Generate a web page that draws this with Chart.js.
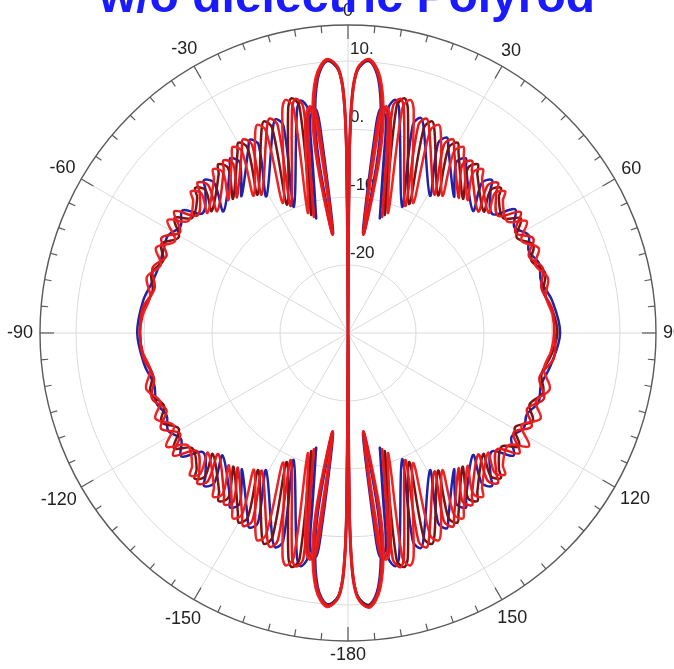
<!DOCTYPE html>
<html>
<head>
<meta charset="utf-8">
<script src="https://cdn.jsdelivr.net/npm/chart.js@4.4.1/dist/chart.umd.min.js"></script>
<style>
  html, body { margin: 0; padding: 0; background: #fff; }
  #wrap { width: 674px; height: 669px; position: relative; }
</style>
</head>
<body>
<div id="wrap"><canvas id="polar"></canvas></div>
<script>
const titleText = 'w/o dielectric Polyrod';

// radial axis (dB): centre of the plot and the outer frame circle
const rMin = -30;
const rOuter = 15.3;
const ringValues = [-20, -10, 0, 10];
const ringLabels = ['-20', '-10', '0.', '10.'];
const angleTicks = [0, 30, 60, 90, 120, 150, 180, 210, 240, 270, 300, 330];
const angleLabels = ['0', '30', '60', '90', '120', '150', '-180', '-150', '-120', '-90', '-60', '-30'];

// traces: angle (deg, clockwise from top) and level (dB)
// each row is one quadrant: 0-90, 90-180, 180-270, 270-360
const blueDeg = [
  0, 0.4, 0.9, 2.0, 4.4, 6.8, 8.8, 9.6, 8.5, 7.7, 8.3, 10.1, 15.5, 10.2, 11.5, 12.9, 23.2, 17.3, 18.7, 20.2, 30.9, 25.4, 26.9, 28.4, 37.9, 32.4, 34.0, 35.6, 45.7, 41.7, 43.3, 44.9, 50.5, 53.5, 57.5, 61.5, 65.5, 70, 75, 81, 90,
  99, 105, 110, 114.5, 118.5, 122.5, 126.5, 129.5, 135.1, 136.7, 138.3, 134.3, 144.4, 146.0, 147.6, 142.1, 151.6, 153.1, 154.6, 149.1, 159.8, 161.3, 162.7, 156.8, 167.1, 168.5, 169.8, 164.5, 169.9, 171.7, 172.3, 171.5, 170.4, 171.2, 173.2, 175.6, 178.0, 179.1, 179.6, 180,
  180.4, 180.9, 182.0, 184.4, 186.8, 188.8, 189.6, 188.5, 187.7, 188.3, 190.1, 195.5, 190.2, 191.5, 192.9, 203.2, 197.3, 198.7, 200.2, 210.9, 205.4, 206.9, 208.4, 217.9, 212.4, 214.0, 215.6, 225.7, 221.7, 223.3, 224.9, 230.5, 233.5, 237.5, 241.5, 245.5, 250, 255, 261, 270,
  279, 285, 290, 294.5, 298.5, 302.5, 306.5, 309.5, 315.1, 316.7, 318.3, 314.3, 324.4, 326.0, 327.6, 322.1, 331.6, 333.1, 334.6, 329.1, 339.8, 341.3, 342.7, 336.8, 347.1, 348.5, 349.8, 344.5, 349.9, 351.7, 352.3, 351.5, 350.4, 351.2, 353.2, 355.6, 358.0, 359.1, 359.6, 360
];
const blueDb = [
  -30, -6, 4.0, 8.6, 10.1, 7.6, 1.5, -5.0, -15.1, 0.9, 3.4, 1.8, -12.5, 3.6, 5.0, 3.7, -9.8, 2.1, 3.4, 2.2, -6.5, 0.9, 2.2, 1.0, -4.6, -0.3, 1.0, -0.2, -4.3, -0.4, 0.9, -0.3, -2.5, 0.6, -1.0, 0.2, -0.8, -0.1, -0.6, 0.4, 1.2,
  0.2, -0.6, -0.2, -1.1, -0.6, -1.5, 0.3, -2.6, -0.3, 0.9, -0.4, -4.3, -0.2, 1.0, -0.3, -4.6, 1.0, 2.2, 0.9, -6.5, 2.2, 3.4, 2.1, -9.8, 3.7, 5.0, 3.6, -12.5, 1.8, 3.4, 0.9, -15.1, -5.0, 1.5, 7.6, 10.1, 8.6, 4.0, -6, -30,
  -6, 4.0, 8.6, 10.0, 7.6, 1.5, -5.0, -15.1, 0.9, 3.4, 1.8, -12.5, 3.6, 5.0, 3.7, -9.7, 2.1, 3.3, 2.2, -6.5, 0.9, 2.1, 1.0, -4.6, -0.3, 1.0, -0.2, -4.2, -0.4, 0.9, -0.3, -2.4, 0.5, -0.9, 0.1, -0.7, 0.0, -0.5, 0.3, 1.0,
  0.5, -0.3, -0.5, -0.2, 0.1, -0.8, 0.3, -2.3, -0.3, 0.9, -0.4, -4.4, -0.2, 1.0, -0.3, -4.5, 0.8, 1.9, 0.7, -6.6, 2.0, 3.2, 1.9, -9.8, 3.6, 4.9, 3.5, -12.5, 1.8, 3.4, 0.9, -15.2, -5.0, 1.5, 7.6, 10.1, 8.6, 4.0, -6, -30
];

const red1Deg = [
  0, 0.4, 0.9, 2.0, 4.3, 6.9, 9.0, 9.9, 8.8, 8.0, 8.8, 10.6, 16.4, 11.2, 12.6, 14.0, 24.2, 18.7, 20.1, 21.6, 32.0, 27.0, 28.5, 30.0, 39.3, 34.2, 35.8, 37.4, 47.0, 43.4, 45.0, 46.6, 52.0, 55.0, 59.0, 63.0, 67.0, 71.5, 77, 83, 90,
  97, 103, 108.5, 113.0, 117.0, 121.0, 125.0, 128.0, 133.4, 135.0, 136.6, 133.0, 142.6, 144.2, 145.8, 140.7, 150.0, 151.5, 153.0, 148.0, 158.4, 159.9, 161.3, 155.8, 166.0, 167.4, 168.8, 163.6, 169.4, 171.2, 172.0, 171.2, 170.1, 171.0, 173.1, 175.7, 178.0, 179.1, 179.6, 180,
  180.4, 180.9, 182.0, 184.3, 186.9, 189.0, 189.9, 188.8, 188.0, 188.8, 190.6, 196.4, 191.2, 192.6, 194.0, 204.2, 198.7, 200.1, 201.6, 212.0, 207.0, 208.5, 210.0, 219.3, 214.2, 215.8, 217.4, 227.0, 223.4, 225.0, 226.6, 232.0, 235.0, 239.0, 243.0, 247.0, 251.5, 257, 263, 270,
  277, 283, 288.5, 293.0, 297.0, 301.0, 305.0, 308.0, 313.4, 315.0, 316.6, 313.0, 322.6, 324.2, 325.8, 320.7, 330.0, 331.5, 333.0, 328.0, 338.4, 339.9, 341.3, 335.8, 346.0, 347.4, 348.8, 343.6, 349.4, 351.2, 352.0, 351.2, 350.1, 351.0, 353.1, 355.7, 358.0, 359.1, 359.6, 360
];
const red1Db = [
  -30, -5, 4.5, 8.9, 10.3, 7.8, 1.8, -5.0, -15.3, 1.2, 3.7, 2.0, -12.2, 3.9, 5.3, 4.0, -9.5, 2.3, 3.6, 2.4, -6.0, 1.1, 2.4, 1.2, -4.3, -0.1, 1.2, 0.0, -3.8, -0.1, 1.2, 0.0, -2.0, 1.0, -1.3, 0.6, -1.1, 0.2, -0.8, 0.2, 0.4,
  0.5, -1.1, 0.4, -1.4, 0.3, -1.6, 0.8, -2.2, 0.0, 1.2, -0.1, -3.8, 0.0, 1.2, -0.1, -4.3, 1.2, 2.4, 1.1, -6.0, 2.4, 3.6, 2.3, -9.5, 4.0, 5.3, 3.9, -12.2, 2.0, 3.7, 1.2, -15.3, -5.0, 1.8, 7.8, 10.4, 8.9, 4.5, -5, -30,
  -5, 4.5, 8.9, 10.2, 7.8, 1.8, -5.0, -15.3, 1.2, 3.7, 2.0, -12.2, 3.9, 5.2, 4.0, -9.5, 2.2, 3.5, 2.3, -6.1, 1.0, 2.3, 1.1, -4.4, -0.1, 1.1, 0.0, -3.9, 0.0, 1.3, 0.1, -1.8, 1.4, -1.2, 0.9, -1.0, 0.4, -0.7, 0.3, 0.6,
  0.4, -0.8, 0.3, -1.0, 0.8, -1.2, 1.2, -1.9, 0.0, 1.3, -0.1, -3.7, 0.1, 1.3, 0.0, -4.2, 1.2, 2.4, 1.1, -6.0, 2.4, 3.6, 2.3, -9.5, 4.0, 5.3, 3.9, -12.2, 2.0, 3.7, 1.2, -15.3, -5.0, 1.8, 7.8, 10.3, 8.9, 4.5, -5, -30
];

const maroonDeg = [
  0, 0.5, 1.0, 2.1, 4.4, 7.0, 9.1, 10.0, 8.9, 8.3, 9.1, 10.9, 17.3, 12.1, 13.5, 14.9, 25.3, 20.3, 21.7, 23.2, 33.2, 28.5, 30.0, 31.5, 40.6, 36.0, 37.6, 39.2, 48.2, 44.9, 46.5, 48.1, 53.5, 56.5, 60.5, 64.5, 68.5, 73, 78, 84, 90,
  96, 102, 107, 111.5, 115.5, 119.5, 123.5, 126.5, 131.9, 133.5, 135.1, 131.8, 140.8, 142.4, 144.0, 139.4, 148.5, 150.0, 151.5, 146.8, 156.8, 158.3, 159.7, 154.7, 165.1, 166.5, 167.9, 162.7, 169.1, 170.9, 171.7, 171.1, 170.0, 170.9, 173.0, 175.6, 177.9, 179.0, 179.5, 180,
  180.5, 181.0, 182.1, 184.4, 187.0, 189.1, 190.0, 188.9, 188.3, 189.1, 190.9, 197.3, 192.1, 193.5, 194.9, 205.3, 200.3, 201.7, 203.2, 213.2, 208.5, 210.0, 211.5, 220.6, 216.0, 217.6, 219.2, 228.2, 224.9, 226.5, 228.1, 233.5, 236.5, 240.5, 244.5, 248.5, 253, 258, 264, 270,
  276, 282, 287, 291.5, 295.5, 299.5, 303.5, 306.5, 311.9, 313.5, 315.1, 311.8, 320.8, 322.4, 324.0, 319.4, 328.5, 330.0, 331.5, 326.8, 336.8, 338.3, 339.7, 334.7, 345.1, 346.5, 347.9, 342.7, 349.1, 350.9, 351.7, 351.1, 350.0, 350.9, 353.0, 355.6, 357.9, 359.0, 359.5, 360
];
const maroonDb = [
  -30, -5, 4.2, 8.7, 10.2, 7.7, 1.6, -5.2, -15.0, 1.0, 3.5, 1.9, -11.8, 4.1, 5.5, 4.2, -9.0, 2.2, 3.5, 2.3, -5.8, 1.0, 2.3, 1.1, -4.0, 0.0, 1.3, 0.1, -3.2, -0.3, 1.0, -0.2, -1.6, 0.5, -1.5, 0.2, -1.0, 0.3, -0.6, 0.3, 0.8,
  0.1, -0.9, 0.0, -1.3, 0.1, -1.8, 0.2, -1.9, -0.2, 1.0, -0.3, -3.3, 0.1, 1.2, 0.0, -4.1, 1.1, 2.2, 1.0, -5.8, 2.3, 3.4, 2.2, -9.0, 4.2, 5.4, 4.1, -11.8, 1.9, 3.5, 1.0, -15.0, -5.2, 1.6, 7.7, 10.2, 8.7, 4.2, -5, -30,
  -5, 4.2, 8.7, 10.1, 7.7, 1.6, -5.2, -15.0, 1.0, 3.5, 1.9, -11.8, 4.0, 5.4, 4.1, -9.0, 2.1, 3.4, 2.2, -5.9, 0.9, 2.2, 1.0, -4.1, -0.1, 1.2, 0.0, -3.3, -0.2, 1.1, -0.1, -1.5, 0.7, -1.4, 0.4, -0.9, 0.4, -0.6, 0.3, 0.6,
  0.4, -0.6, 0.2, -0.8, 0.4, -1.4, 0.6, -1.5, -0.2, 1.0, -0.3, -3.1, 0.1, 1.3, 0.0, -4.0, 1.1, 2.3, 1.0, -5.7, 2.3, 3.5, 2.2, -9.1, 4.2, 5.5, 4.1, -11.8, 1.9, 3.5, 1.0, -15.0, -5.2, 1.6, 7.7, 10.2, 8.7, 4.2, -5, -30
];

const red2Deg = [
  0, 0.5, 1.1, 2.2, 4.5, 7.2, 9.4, 10.3, 9.0, 8.6, 9.5, 11.3, 18.5, 13.6, 15.0, 16.4, 26.5, 22.1, 23.6, 25.1, 34.5, 30.3, 31.8, 33.3, 42.0, 37.9, 39.5, 41.1, 49.5, 46.4, 48.0, 49.6, 55.0, 58.0, 62.0, 66.0, 70.0, 74.5, 79.5, 85, 90,
  95, 100.5, 105.5, 110, 114, 118, 122, 125, 130.4, 132, 133.6, 130.5, 138.9, 140.5, 142.1, 138, 146.7, 148.2, 149.7, 145.5, 154.9, 156.4, 157.9, 153.5, 163.6, 165, 166.4, 161.5, 168.7, 170.5, 171.4, 171, 169.7, 170.6, 172.8, 175.5, 177.8, 178.9, 179.5, 180,
  180.5, 181.1, 182.2, 184.5, 187.2, 189.4, 190.3, 189.0, 188.6, 189.5, 191.3, 198.5, 193.6, 195.0, 196.4, 206.5, 202.1, 203.6, 205.1, 214.5, 210.3, 211.8, 213.3, 222.0, 217.9, 219.5, 221.1, 229.5, 226.4, 228.0, 229.6, 235.0, 238.0, 242.0, 246.0, 250.0, 254.5, 259.5, 265, 270,
  275, 280.5, 285.5, 290, 294, 298, 302, 305, 310.4, 312, 313.6, 310.5, 318.9, 320.5, 322.1, 318, 326.7, 328.2, 329.7, 325.5, 334.9, 336.4, 337.9, 333.5, 343.6, 345, 346.4, 341.5, 348.7, 350.5, 351.4, 351, 349.7, 350.6, 352.8, 355.5, 357.8, 358.9, 359.5, 360
];
const red2Db = [
  -30, -4, 4.8, 9.0, 10.4, 7.9, 1.9, -5.0, -15.2, 1.3, 3.8, 2.1, -11.4, 4.1, 5.5, 4.2, -8.6, 2.1, 3.4, 2.2, -5.5, 0.9, 2.2, 1.0, -3.7, -0.1, 1.2, 0.0, -2.8, -0.2, 1.1, -0.1, -1.4, 1.0, -1.1, 0.7, -0.7, 0.5, -0.4, 0.2, 0.3,
  0.0, -0.7, 0.8, -0.6, 1.0, -1.1, 1.4, -1.2, -0.1, 1.1, -0.2, -2.9, 0.0, 1.2, -0.1, -3.7, 1.0, 2.1, 0.9, -5.5, 2.2, 3.3, 2.1, -8.6, 4.2, 5.4, 4.1, -11.4, 2.1, 3.8, 1.3, -15.2, -5.0, 1.9, 7.9, 10.5, 9.0, 4.8, -4, -30,
  -4, 4.8, 9.0, 10.4, 7.9, 1.9, -5.0, -15.2, 1.3, 3.8, 2.1, -11.4, 4.0, 5.4, 4.1, -8.7, 2.0, 3.3, 2.1, -5.6, 0.9, 2.1, 1.0, -3.8, -0.1, 1.2, 0.0, -2.9, 0.0, 1.3, 0.1, -1.2, 1.5, -1.0, 1.0, -0.6, 0.8, -0.4, 0.4, 0.6,
  0.3, -0.4, 0.7, -0.7, 0.9, -1.2, 1.3, -1.3, -0.1, 1.1, -0.2, -2.8, 0.0, 1.2, -0.1, -3.7, 1.1, 2.2, 1.0, -5.5, 2.2, 3.4, 2.1, -8.6, 4.2, 5.5, 4.1, -11.4, 2.1, 3.8, 1.3, -15.2, -5.0, 1.9, 7.9, 10.4, 9.0, 4.8, -4, -30
];

// polar (deg, dB) -> plane coordinates in dB-above-centre units
function toPoints(degs, dbs) {
  return degs.map((d, i) => {
    const r = Math.max(dbs[i] - rMin, 0);
    const a = d * Math.PI / 180;
    return { x: r * Math.sin(a), y: r * Math.cos(a) };
  });
}

function trace(data, color) {
  return {
    data: data,
    showLine: true,
    borderColor: color,
    borderWidth: 2.5,
    pointRadius: 0,
    tension: 0.35,
    fill: false
  };
}

// rings, spokes, frame with ticks and labels, all placed through the x/y scales
const polarGrid = {
  id: 'polarGrid',
  beforeDatasetsDraw(chart) {
    const { ctx, scales: { x, y } } = chart;
    const cx = x.getPixelForValue(0);
    const cy = y.getPixelForValue(0);
    const unit = x.getPixelForValue(1) - cx;
    const rad = v => (v - rMin) * unit;
    const outer = rad(rOuter);

    ctx.save();
    ctx.strokeStyle = '#dadada';
    ctx.lineWidth = 1;
    ringValues.forEach(v => {
      ctx.beginPath();
      ctx.arc(cx, cy, rad(v), 0, Math.PI * 2);
      ctx.stroke();
    });
    angleTicks.forEach(a => {
      const t = a * Math.PI / 180;
      ctx.beginPath();
      ctx.moveTo(cx, cy);
      ctx.lineTo(cx + outer * Math.sin(t), cy - outer * Math.cos(t));
      ctx.stroke();
    });

    ctx.strokeStyle = '#5a5a5a';
    ctx.lineWidth = 1.4;
    ctx.beginPath();
    ctx.arc(cx, cy, outer, 0, Math.PI * 2);
    ctx.stroke();
    ctx.lineWidth = 1.2;
    for (let a = 0; a < 360; a += 5) {
      const t = a * Math.PI / 180;
      const len = a % 30 === 0 ? 14 : 7;
      ctx.beginPath();
      ctx.moveTo(cx + outer * Math.sin(t), cy - outer * Math.cos(t));
      ctx.lineTo(cx + (outer - len) * Math.sin(t), cy - (outer - len) * Math.cos(t));
      ctx.stroke();
    }

    // angle labels sit just outside the frame, pushed out by half their box
    ctx.fillStyle = '#222';
    ctx.font = '18px "Liberation Sans", Arial, sans-serif';
    ctx.textAlign = 'center';
    ctx.textBaseline = 'middle';
    angleTicks.forEach((a, i) => {
      const t = a * Math.PI / 180;
      const w = ctx.measureText(angleLabels[i]).width;
      const rr = outer + 7 + Math.abs(Math.sin(t)) * w / 2 + Math.abs(Math.cos(t)) * 7;
      ctx.fillText(angleLabels[i], cx + rr * Math.sin(t), cy - rr * Math.cos(t));
    });

    ctx.font = '17px "Liberation Sans", Arial, sans-serif';
    ctx.textAlign = 'left';
    ctx.textBaseline = 'bottom';
    ringValues.forEach((v, i) => {
      ctx.fillText(ringLabels[i], cx + 2, cy - rad(v) - 3);
    });
    ctx.restore();
  },
  afterDraw(chart) {
    const { ctx } = chart;
    ctx.save();
    ctx.fillStyle = '#1a1aff';
    ctx.font = 'bold 48px "Liberation Sans", Arial, sans-serif';
    ctx.textAlign = 'center';
    ctx.textBaseline = 'alphabetic';
    ctx.fillText(titleText, 347, 12);
    ctx.restore();
  }
};

new Chart(document.getElementById('polar'), {
  type: 'scatter',
  data: {
    datasets: [
      trace(toPoints(red1Deg, red1Db), '#e3191c'),
      trace(toPoints(red2Deg, red2Db), '#ee2424'),
      trace(toPoints(maroonDeg, maroonDb), '#7a1414'),
      trace(toPoints(blueDeg, blueDb), '#2222a6')
    ]
  },
  options: {
    responsive: true,
    maintainAspectRatio: false,
    animation: false,
    layout: { padding: { left: 40, right: 18, top: 25, bottom: 28 } },
    scales: {
      x: { type: 'linear', min: -45.3, max: 45.3, display: false },
      y: { type: 'linear', min: -45.3, max: 45.3, display: false }
    },
    plugins: {
      legend: { display: false },
      tooltip: { enabled: false }
    }
  },
  plugins: [polarGrid]
});
</script>
</body>
</html>
